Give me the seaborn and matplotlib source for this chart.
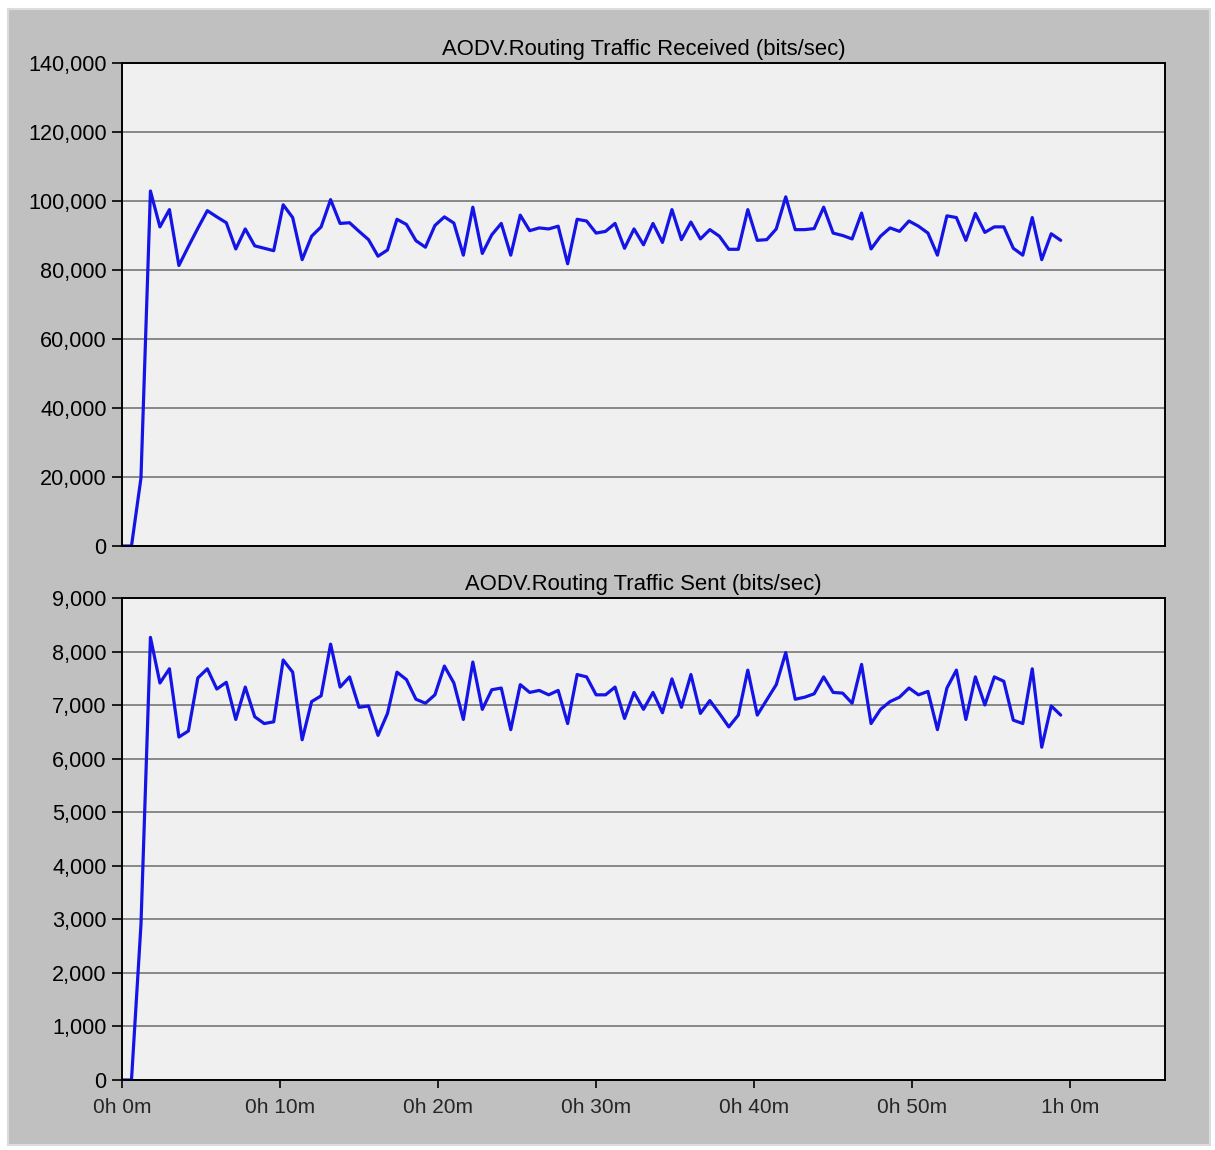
import numpy as np
import pandas as pd
import seaborn as sns
import matplotlib
matplotlib.use("Agg")
import matplotlib.pyplot as plt
from matplotlib.ticker import StrMethodFormatter, FixedLocator
from matplotlib.patches import Rectangle

# ---------------- data ----------------
sample_minutes = 0.6  # 100 values over the 1 h run
received = [
    0, 0, 19700, 102900, 92500, 97500, 81300, 86800, 92100, 97200,
    95400, 93700, 86100, 91900, 87000, 86300, 85600, 98900, 95200, 83000,
    89800, 92500, 100400, 93500, 93700, 91200, 88800, 84000, 85800, 94700,
    93200, 88500, 86600, 92900, 95400, 93600, 84300, 98200, 84800, 90200,
    93500, 84300, 95900, 91400, 92200, 91900, 92700, 81800, 94700, 94200,
    90700, 91200, 93500, 86300, 91900, 87300, 93500, 88000, 97500, 88800,
    93900, 89000, 91700, 89800, 86000, 86000, 97500, 88600, 88800, 91900,
    101200, 91700, 91700, 92000, 98200, 90700, 90000, 89000, 96500, 86100,
    89800, 92200, 91200, 94200, 92700, 90700, 84300, 95700, 95200, 88600,
    96400, 90900, 92500, 92500, 86300, 84300, 95200, 83000, 90500, 88600,
]
sent = [
    0, 0, 2900, 8265, 7413, 7678, 6404, 6517, 7508, 7678,
    7300, 7426, 6732, 7337, 6782, 6656, 6688, 7842, 7615, 6353,
    7066, 7173, 8139, 7337, 7527, 6959, 6984, 6435, 6845, 7615,
    7476, 7110, 7035, 7192, 7729, 7413, 6732, 7804, 6921, 7287,
    7319, 6542, 7382, 7237, 7274, 7192, 7274, 6656, 7571, 7527,
    7192, 7192, 7337, 6751, 7237, 6921, 7237, 6858, 7489, 6959,
    7571, 6845, 7085, 6845, 6593, 6814, 7653, 6814, 7098, 7382,
    7981, 7110, 7148, 7211, 7527, 7237, 7224, 7035, 7760, 6656,
    6921, 7066, 7148, 7319, 7192, 7255, 6542, 7319, 7653, 6732,
    7527, 7003, 7527, 7445, 6719, 6656, 7678, 6214, 6984, 6814,
]
titles = ["AODV.Routing Traffic Received (bits/sec)",
          "AODV.Routing Traffic Sent (bits/sec)"]
x_tick_minutes = [0, 10, 20, 30, 40, 50, 60]
x_tick_labels = ["0h 0m", "0h 10m", "0h 20m", "0h 30m", "0h 40m", "0h 50m", "1h 0m"]
top_yticks = list(range(0, 140001, 20000))
bot_yticks = list(range(0, 9001, 1000))

minutes = [i * sample_minutes for i in range(len(received))]
df = pd.DataFrame({"minutes": minutes, "received": received, "sent": sent})

# ---------------- style ----------------
sns.set_style("white")
plt.rcParams["font.family"] = ["Liberation Sans", "DejaVu Sans"]
plt.rcParams["font.size"] = 15

W, H = 1215, 1150
fig = plt.figure(figsize=(W / 100, H / 100), dpi=100)
fig.patch.set_facecolor("white")
# grey panel background
fig.patches.append(Rectangle((8 / W, 1 - 1145 / H), (1210 - 8) / W, (1145 - 9) / H,
                             transform=fig.transFigure, facecolor="#c0c0c0",
                             edgecolor="#dcdcdc", linewidth=1.5, zorder=-10))

left, right = 122 / W, 1165 / W
ax1 = fig.add_axes([left, 1 - 546 / H, right - left, (546 - 63) / H])
ax2 = fig.add_axes([left, 1 - 1080 / H, right - left, (1080 - 598) / H])

line_color = "#1414e6"
sns.lineplot(data=df, x="minutes", y="received", ax=ax1, color=line_color, linewidth=2.3)
sns.lineplot(data=df, x="minutes", y="sent", ax=ax2, color=line_color, linewidth=2.3)

for ax, ttl, yt in [(ax1, titles[0], top_yticks), (ax2, titles[1], bot_yticks)]:
    ax.set_facecolor("#f0f0f0")
    ax.set_xlim(0, 66)
    ax.set_ylim(yt[0], yt[-1])
    ax.yaxis.set_major_locator(FixedLocator(yt))
    ax.yaxis.set_major_formatter(StrMethodFormatter("{x:,.0f}"))
    ax.grid(axis="y", color="#808080", linewidth=1.3)
    ax.grid(axis="x", visible=False)
    ax.set_axisbelow(True)
    for s in ax.spines.values():
        s.set_color("black")
        s.set_linewidth(1.4)
        s.set_visible(True)
    ax.tick_params(axis="y", direction="out", length=7, width=1.2, color="black",
                   labelsize=15.6, pad=4, labelcolor="black", left=True)
    ax.set_xlabel("")
    ax.set_ylabel("")
    ax.set_title(ttl, fontsize=15.9, pad=6, color="black")

ax1.set_xticks([])
ax2.set_xticks(x_tick_minutes)
ax2.set_xticklabels(x_tick_labels)
ax2.tick_params(axis="x", direction="out", length=6, width=1.2, color="black",
                labelsize=15, pad=7, bottom=True)

fig.savefig("out.png", dpi=100, facecolor=fig.get_facecolor())
